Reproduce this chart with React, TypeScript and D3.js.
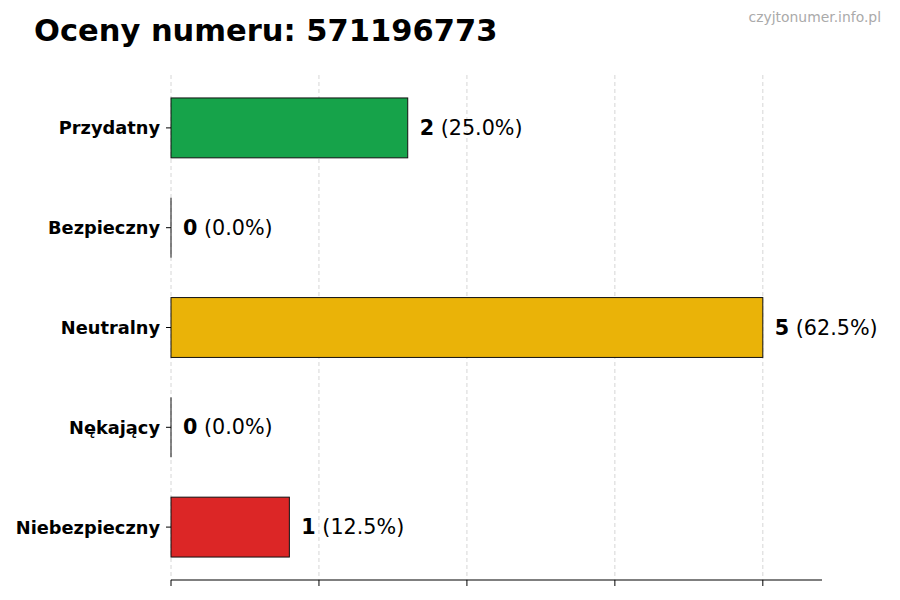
import React from "react";
import * as d3 from "d3";

const categories = ["Przydatny", "Bezpieczny", "Neutralny", "Nękający", "Niebezpieczny"];
const counts = [2, 0, 5, 0, 1];
const colors = ["#16a34a", "#9ca3af", "#eab308", "#f97316", "#dc2626"];
const xTicks = [0, 1.25, 2.5, 3.75, 5];
const title = "Oceny numeru: 571196773";
const watermark = "czyjtonumer.info.pl";

const W = 900;
const H = 600;
const left = 171;
const right = 822;
const top = 75;
const bottom = 580;
const FONT = "'DejaVu Sans', sans-serif";

export default function App() {
  const total = d3.sum(counts);
  const x = d3.scaleLinear().domain([0, 5.5]).range([left, right]);
  const y = d3.scaleLinear().domain([-0.53, 4.53]).range([top, bottom]);
  const barH = y(0.3) - y(-0.3);

  return (
    <div style={{ position: "fixed", top: 0, left: 0 }}>
      <svg width={W} height={H} style={{ display: "block", background: "#fff" }} fontFamily={FONT}>
        <text x={34} y={41} fontSize={30.5} fontWeight="bold" fill="#000">{title}</text>
        <text x={881} y={22} fontSize={13.9} fill="#aaaaaa" textAnchor="end">{watermark}</text>

        {xTicks.map((t) => (
          <line key={"g" + t} x1={x(t)} x2={x(t)} y1={top} y2={bottom}
            stroke="#cccccc" strokeWidth={0.8} strokeDasharray="4,3" />
        ))}

        {categories.map((c, i) => {
          const cy = y(i);
          const v = counts[i];
          const x1 = x(v);
          return (
            <g key={c}>
              {v > 0 ? (
                <rect x={x(0)} y={cy - barH / 2} width={x1 - x(0)} height={barH}
                  fill={colors[i]} stroke="#111" strokeWidth={1} />
              ) : (
                <line x1={x(0)} x2={x(0)} y1={cy - barH / 2} y2={cy + barH / 2}
                  stroke="#111" strokeWidth={1} />
              )}
              <line x1={x(0) - 5} x2={x(0)} y1={cy} y2={cy} stroke="#000" strokeWidth={1} />
              <text x={left - 11} y={cy} fontSize={17.8} fontWeight="bold" textAnchor="end"
                dominantBaseline="central" fill="#000">{c}</text>
              <text x={x1 + 12} y={cy} fontSize={20.7} dominantBaseline="central" fill="#000">
                <tspan fontWeight="bold">{v}</tspan>
                <tspan>{` (${((v / total) * 100).toFixed(1)}%)`}</tspan>
              </text>
            </g>
          );
        })}

        <line x1={left} x2={right} y1={bottom} y2={bottom} stroke="#000" strokeWidth={1.2} />
        {xTicks.map((t) => (
          <line key={"t" + t} x1={x(t)} x2={x(t)} y1={bottom} y2={bottom + 6} stroke="#000" strokeWidth={1} />
        ))}
      </svg>
    </div>
  );
}
